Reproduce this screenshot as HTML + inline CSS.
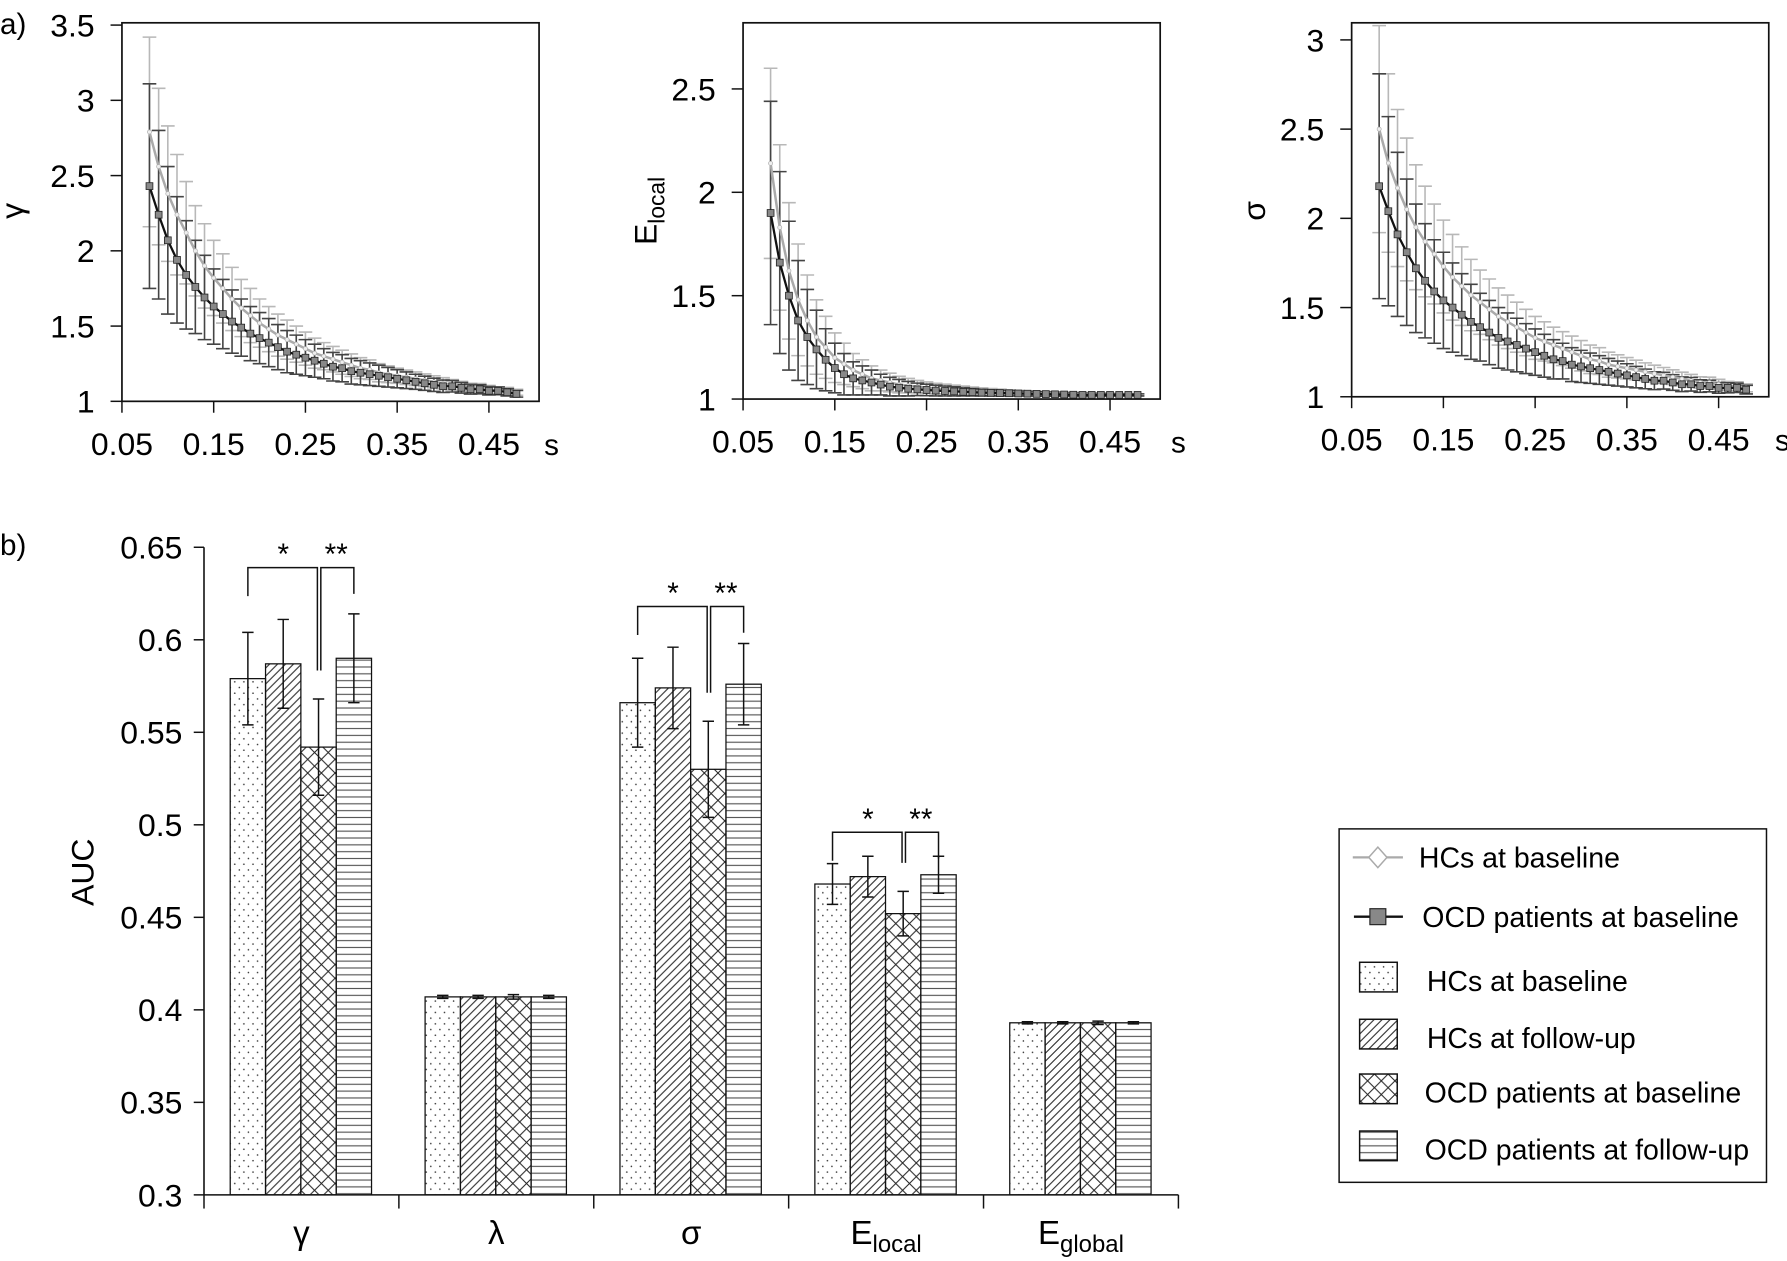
<!DOCTYPE html>
<html><head><meta charset="utf-8"><style>
html,body{margin:0;padding:0;background:#fff;}
svg{display:block;font-family:"Liberation Sans",sans-serif;}
</style></head><body>
<svg id="fig" width="1787" height="1261" viewBox="0 0 1568 1106" preserveAspectRatio="none" xmlns="http://www.w3.org/2000/svg">
<defs>
<pattern id="pDots" width="8" height="10" patternUnits="userSpaceOnUse"><circle cx="2" cy="3" r="0.7" fill="#333"/><circle cx="6" cy="8" r="0.7" fill="#333"/></pattern>
<pattern id="pDiag" width="7" height="7" patternUnits="userSpaceOnUse"><path d="M-1,8 L8,-1 M-1,1 L1,-1 M6,8 L8,6" stroke="#222" stroke-width="0.9"/></pattern>
<pattern id="pCross" width="12" height="12" patternUnits="userSpaceOnUse"><path d="M0,0 L12,12 M12,0 L0,12" stroke="#222" stroke-width="0.9"/></pattern>
<pattern id="pHoriz" width="10" height="6" patternUnits="userSpaceOnUse"><path d="M0,3 L10,3" stroke="#555" stroke-width="1"/></pattern>
</defs>
<text x="0" y="30" font-size="26">a)</text>
<text x="0" y="487" font-size="26">b)</text>
<g id="lines"></g>
<g id="bars"></g>
</svg>
<script>
const NS="http://www.w3.org/2000/svg";
function mk(tag,attrs,parent,txt){const e=document.createElementNS(NS,tag);for(const k in attrs)e.setAttribute(k,attrs[k]);if(txt!==undefined)e.textContent=txt;parent.appendChild(e);return e;}

// ---- Panel a data ----
const sVals=[0.08,0.09,0.10,0.11,0.12,0.13,0.14,0.15,0.16,0.17,0.18,0.19,0.20,0.21,0.22,0.23,0.24,0.25,0.26,0.27,0.28,0.29,0.30,0.31,0.32,0.33,0.34,0.35,0.36,0.37,0.38,0.39,0.40,0.41,0.42,0.43,0.44,0.45,0.46,0.47,0.48];
const gammaHC=[2.79,2.56,2.38,2.24,2.12,2.00,1.90,1.82,1.75,1.68,1.62,1.57,1.52,1.48,1.44,1.41,1.38,1.35,1.32,1.30,1.28,1.26,1.24,1.22,1.21,1.19,1.18,1.17,1.16,1.15,1.14,1.13,1.12,1.11,1.10,1.09,1.09,1.08,1.07,1.07,1.06];
const gammaOCD=[2.43,2.24,2.07,1.94,1.84,1.76,1.69,1.63,1.58,1.53,1.49,1.45,1.42,1.39,1.36,1.33,1.31,1.29,1.27,1.25,1.23,1.22,1.20,1.19,1.18,1.17,1.16,1.15,1.14,1.13,1.12,1.11,1.10,1.10,1.09,1.08,1.08,1.07,1.07,1.06,1.05];
const gammaHCerr=[0.63,0.52,0.45,0.40,0.34,0.30,0.28,0.25,0.23,0.21,0.19,0.18,0.16,0.15,0.14,0.13,0.12,0.11,0.10,0.09,0.085,0.08,0.075,0.07,0.065,0.06,0.055,0.05,0.048,0.045,0.042,0.04,0.037,0.035,0.032,0.03,0.028,0.026,0.024,0.022,0.02];
const gammaOCDerr=[0.68,0.56,0.49,0.42,0.36,0.31,0.28,0.25,0.23,0.21,0.19,0.18,0.17,0.16,0.15,0.14,0.13,0.12,0.11,0.10,0.095,0.09,0.085,0.08,0.075,0.07,0.065,0.06,0.055,0.05,0.047,0.044,0.041,0.038,0.035,0.032,0.03,0.028,0.026,0.024,0.022];
const elocHC=[2.14,1.83,1.62,1.48,1.38,1.30,1.25,1.20,1.17,1.14,1.12,1.10,1.09,1.08,1.07,1.065,1.06,1.055,1.05,1.048,1.045,1.043,1.04,1.038,1.036,1.034,1.032,1.03,1.029,1.028,1.027,1.026,1.025,1.024,1.023,1.022,1.021,1.02,1.02,1.02,1.02];
const elocOCD=[1.90,1.66,1.50,1.38,1.30,1.24,1.19,1.15,1.12,1.10,1.09,1.08,1.07,1.06,1.055,1.05,1.047,1.044,1.041,1.039,1.037,1.035,1.033,1.031,1.03,1.029,1.028,1.027,1.026,1.025,1.024,1.023,1.022,1.021,1.02,1.02,1.02,1.02,1.02,1.02,1.02];
const elocHCerr=[0.46,0.40,0.33,0.27,0.22,0.18,0.15,0.12,0.10,0.08,0.07,0.06,0.05,0.045,0.04,0.035,0.03,0.028,0.026,0.024,0.022,0.02,0.018,0.016,0.015,0.014,0.013,0.012,0.011,0.01,0.01,0.009,0.009,0.008,0.008,0.007,0.007,0.006,0.006,0.005,0.005];
const elocOCDerr=[0.54,0.44,0.36,0.29,0.23,0.19,0.15,0.12,0.10,0.08,0.07,0.06,0.05,0.045,0.04,0.035,0.03,0.028,0.026,0.024,0.022,0.02,0.018,0.016,0.015,0.014,0.013,0.012,0.011,0.01,0.01,0.009,0.009,0.008,0.008,0.007,0.007,0.006,0.006,0.005,0.005];
const sigmaHC=[2.50,2.31,2.17,2.05,1.95,1.87,1.80,1.73,1.67,1.62,1.57,1.53,1.49,1.45,1.42,1.39,1.36,1.33,1.31,1.29,1.27,1.25,1.23,1.21,1.20,1.18,1.17,1.16,1.15,1.14,1.13,1.12,1.11,1.10,1.09,1.08,1.08,1.07,1.06,1.06,1.05];
const sigmaOCD=[2.18,2.04,1.91,1.81,1.72,1.65,1.59,1.54,1.50,1.46,1.42,1.39,1.36,1.33,1.31,1.29,1.27,1.25,1.23,1.21,1.20,1.18,1.17,1.16,1.15,1.14,1.13,1.12,1.11,1.10,1.09,1.09,1.08,1.07,1.07,1.06,1.06,1.05,1.05,1.05,1.04];
const sigmaHCerr=[0.58,0.50,0.44,0.40,0.35,0.31,0.28,0.26,0.24,0.22,0.20,0.18,0.17,0.16,0.15,0.14,0.13,0.12,0.11,0.10,0.095,0.09,0.085,0.08,0.075,0.07,0.065,0.06,0.055,0.05,0.047,0.044,0.041,0.038,0.035,0.032,0.03,0.028,0.026,0.024,0.022];
const sigmaOCDerr=[0.63,0.53,0.46,0.41,0.36,0.32,0.29,0.27,0.25,0.23,0.21,0.19,0.18,0.17,0.16,0.15,0.14,0.13,0.12,0.11,0.10,0.095,0.09,0.085,0.08,0.075,0.07,0.065,0.06,0.055,0.05,0.047,0.044,0.041,0.038,0.035,0.032,0.03,0.028,0.026,0.024];
const xTicks=[0.05,0.15,0.25,0.35,0.45];

const panels=[
 {name:"gamma",x0:107,x1:473,yTop:20,yBot:352,vBot:1,vPerPx:(3.5-1)/330,yTicks:[1,1.5,2,2.5,3,3.5],hc:gammaHC,ocd:gammaOCD,hcE:gammaHCerr,ocdE:gammaOCDerr,lab:"γ",labX:20,sX:484},
 {name:"elocal",x0:652,x1:1018,yTop:20,yBot:350,vBot:1,vPerPx:(2.5-1)/272,yTicks:[1,1.5,2,2.5],hc:elocHC,ocd:elocOCD,hcE:elocHCerr,ocdE:elocOCDerr,lab:"E",labX:576,sX:1034},
 {name:"sigma",x0:1186,x1:1552,yTop:20,yBot:348,vBot:1,vPerPx:(3-1)/313,yTicks:[1,1.5,2,2.5,3],hc:sigmaHC,ocd:sigmaOCD,hcE:sigmaHCerr,ocdE:sigmaOCDerr,lab:"σ",labX:1110,sX:1564}
];
const gl=document.getElementById('lines');
panels.forEach(p=>{
 const g=mk('g',{},gl);
 
 
 const X=v=>p.x0+(v-0.05)*805;
 const Y=v=>p.yBot-(v-p.vBot)/p.vPerPx;
 const box=mk('rect',{x:p.x0,y:p.yTop,width:p.x1-p.x0,height:p.yBot-p.yTop,fill:'none',stroke:'#111','stroke-width':1.5},g);
 
 
 p.yTicks.forEach(t=>{
  mk('line',{x1:p.x0-10,x2:p.x0,y1:Y(t),y2:Y(t),stroke:'#111','stroke-width':1.3},g);
  const tx=mk('text',{x:p.x0-24,y:Y(t)+10,'font-size':28,'text-anchor':'end'},g,String(t));
  
  
 });
 xTicks.forEach(t=>{
  mk('line',{x1:X(t),x2:X(t),y1:p.yBot,y2:p.yBot+10,stroke:'#111','stroke-width':1.3},g);
  const tx=mk('text',{x:X(t),y:p.yBot+47,'font-size':28,'text-anchor':'middle'},g,t.toFixed(2));
  
  
 });
 const sl=mk('text',{x:p.sX,y:p.yBot+47,'font-size':26,'text-anchor':'middle'},g,'s');
 
 
 const yl=mk('text',{x:p.labX,y:185,'font-size':28,'text-anchor':'middle',transform:`rotate(-90 ${p.labX} 185)`},g,p.lab);
 
 
 if(p.name==='elocal'){mk('tspan',{'font-size':20,dy:7},yl,'local');}
 [[p.hc,p.hcE,'#b8b8b8'],[p.ocd,p.ocdE,'#444']].forEach(([vals,errs,col])=>{
  vals.forEach((v,i)=>{
   const x=X(sVals[i]);
   const e=mk('path',{d:`M${x},${Y(v-errs[i])}V${Y(v+errs[i])}M${x-6},${Y(v-errs[i])}h12M${x-6},${Y(v+errs[i])}h12`,stroke:col,'stroke-width':1.4,fill:'none'},g);
   
   
  });
 });
 const pth=(vals)=>vals.map((v,i)=>(i?'L':'M')+X(sVals[i])+','+Y(v)).join('');
 const l1=mk('path',{d:pth(p.hc),stroke:'#aaa','stroke-width':2.2,fill:'none'},g);
 
 
 p.hc.forEach((v,i)=>{const c=mk('circle',{cx:X(sVals[i]),cy:Y(v),r:1.8,fill:'#eee',stroke:'#aaa','stroke-width':0.6},g);});
 const l2=mk('path',{d:pth(p.ocd),stroke:'#111','stroke-width':2,fill:'none'},g);
 
 
 p.ocd.forEach((v,i)=>{const r=mk('rect',{x:X(sVals[i])-3,y:Y(v)-3,width:6,height:6,fill:'#888',stroke:'#222','stroke-width':0.7},g);});
});

// ---- Panel b data ----
const cats=["γ","λ","σ","E|local","E|global"];
const hcBase=[0.579,0.407,0.566,0.468,0.393];
const hcFollow=[0.587,0.407,0.574,0.472,0.393];
const ocdBase=[0.542,0.407,0.530,0.452,0.393];
const ocdFollow=[0.590,0.407,0.576,0.473,0.393];
const hcBaseErr=[0.025,0.0008,0.024,0.011,0.0006];
const hcFollowErr=[0.024,0.0008,0.022,0.011,0.0006];
const ocdBaseErr=[0.026,0.0012,0.026,0.012,0.0009];
const ocdFollowErr=[0.024,0.0008,0.022,0.010,0.0006];
const bTicks=[0.3,0.35,0.4,0.45,0.5,0.55,0.6,0.65];
const sigLevels=[0.639,null,0.618,0.496,null];

const gb=document.getElementById('bars');
const BX0=179,BY0=1048,gw=171;
const YB=v=>BY0-(v-0.3)*(568/0.35);
mk('line',{x1:BX0,x2:BX0,y1:YB(0.65),y2:BY0,stroke:'#111','stroke-width':1.4},gb);
mk('line',{x1:BX0,x2:BX0+gw*5,y1:BY0,y2:BY0,stroke:'#111','stroke-width':1.4},gb);
bTicks.forEach(t=>{
 mk('line',{x1:BX0-9,x2:BX0,y1:YB(t),y2:YB(t),stroke:'#111','stroke-width':1.3},gb);
 const tx=mk('text',{x:BX0-19,y:YB(t)+10,'font-size':28,'text-anchor':'end'},gb,String(t));
 
 
});
for(let i=0;i<=5;i++)mk('line',{x1:BX0+gw*i,x2:BX0+gw*i,y1:BY0,y2:BY0+12,stroke:'#111','stroke-width':1.3},gb);
const auc=mk('text',{x:82,y:765,'font-size':28,'text-anchor':'middle',transform:'rotate(-90 82 765)'},gb,'AUC');


const series=[[hcBase,hcBaseErr,'url(#pDots)'],[hcFollow,hcFollowErr,'url(#pDiag)'],[ocdBase,ocdBaseErr,'url(#pCross)'],[ocdFollow,ocdFollowErr,'url(#pHoriz)']];
cats.forEach((c,ci)=>{
 const gx=BX0+gw*ci+23;
 series.forEach(([vals,errs,fill],si)=>{
  const x=gx+si*31, v=vals[ci];
  const r=mk('rect',{x:x,y:YB(v),width:31,height:BY0-YB(v),fill:fill,stroke:'#111','stroke-width':1.1},gb);
  
  
  const cx=x+15.5,e=errs[ci];
  const eb=mk('path',{d:`M${cx},${YB(v-e)}V${YB(v+e)}M${cx-5},${YB(v-e)}h10M${cx-5},${YB(v+e)}h10`,stroke:'#111','stroke-width':1.3,fill:'none'},gb);
  
  
 });
 const parts=c.split('|');
 const lx=BX0+gw*ci+gw/2;
 const t=mk('text',{x:lx,y:1091,'font-size':29,'text-anchor':'middle'},gb,parts[0]);
 
 
 if(parts[1])mk('tspan',{'font-size':21,dy:7},t,parts[1]);
 const lv=sigLevels[ci];
 if(lv!==null){
  const yb=YB(lv), c1=gx+15.5, c3=gx+62+15.5, c4=gx+93+15.5;
  const d=`M${c1},${yb+25}V${yb}H${c3-1}V${YB(ocdBase[ci]+ocdBaseErr[ci])-25}M${c3+2},${YB(ocdBase[ci]+ocdBaseErr[ci])-25}V${yb}H${c4}V${yb+23}`;
  const br=mk('path',{d:d,stroke:'#111','stroke-width':1.3,fill:'none'},gb);
  
  
  const s1=mk('text',{x:(c1+c3)/2,y:yb-3,'font-size':26,'text-anchor':'middle'},gb,'*');
  
  
  const s2=mk('text',{x:(c3+c4)/2,y:yb-3,'font-size':26,'text-anchor':'middle'},gb,'**');
  
  
 }
});
// legend
const lg=mk('g',{},gb);


mk('rect',{x:1175,y:727,width:375,height:310,fill:'#fff',stroke:'#111','stroke-width':1.3},lg);
mk('line',{x1:1187,x2:1231,y1:752,y2:752,stroke:'#aaa','stroke-width':2},lg);
mk('path',{d:'M1209,743 L1217,752 L1209,761 L1201,752Z',fill:'#fff',stroke:'#aaa','stroke-width':1.3},lg);
mk('line',{x1:1188,x2:1231,y1:804,y2:804,stroke:'#111','stroke-width':2},lg);
mk('rect',{x:1202,y:797,width:14,height:14,fill:'#888',stroke:'#222'},lg);
const legTexts=[["HCs at baseline",1245,761],["OCD patients at baseline",1248,813],["HCs at baseline",1252,869],["HCs at follow-up",1252,919],["OCD patients at baseline",1250,967],["OCD patients at follow-up",1250,1017]];
const patFills=['url(#pDots)','url(#pDiag)','url(#pCross)','url(#pHoriz)'];
legTexts.forEach(([t,x,y],i)=>{
 const tx=mk('text',{x:x,y:y,'font-size':25},lg,t);
 
 
 if(i>=2)mk('rect',{x:1193,y:y-25,width:33,height:26,fill:patFills[i-2],stroke:'#111','stroke-width':1.3},lg);
});
</script>
</body></html>
